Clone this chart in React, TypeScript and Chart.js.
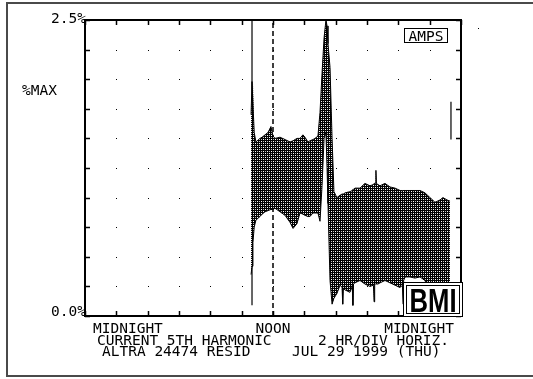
import React, { useEffect, useRef } from "react";
import { Chart, registerables } from "chart.js";

Chart.register(...registerables);

// Hours of day (0 = midnight)
const hours = [
  10.60, 10.66, 10.72, 10.80, 10.91, 11.17, 11.30, 11.49, 11.68, 11.87, 12.00, 12.13,
  12.45, 12.77, 13.09, 13.28, 13.53, 13.72, 13.91, 14.04, 14.23, 14.36, 14.55, 14.68,
  14.87, 15.00, 15.13, 15.26, 15.38, 15.45, 15.51, 15.64, 15.77, 15.89,
  16.08, 16.28, 16.41, 16.45, 16.49, 16.60, 16.91, 17.06, 17.10, 17.14, 17.23, 17.55,
  17.87, 18.19, 18.41, 18.45, 18.49, 18.54, 18.57, 18.60, 18.70, 18.83, 19.15, 19.47,
  19.79, 20.11, 20.26, 20.30, 20.34, 20.43, 20.74, 21.06, 21.38, 21.70,
  22.02, 22.34, 22.66, 22.85, 23.11, 23.30,
];
// Max of 5th harmonic current (%)
const maxVals = [
  1.70, 1.98, 1.98, 1.55, 1.47, 1.50, 1.51, 1.53, 1.55, 1.60, 1.52, 1.50,
  1.51, 1.49, 1.47, 1.48, 1.50, 1.50, 1.53, 1.51, 1.47, 1.48, 1.49, 1.50,
  1.52, 1.72, 2.05, 2.35, 2.50, 2.45, 2.30, 2.10, 1.50, 1.05,
  1.00, 1.02, 1.03, 1.03, 1.03, 1.04, 1.05, 1.06, 1.07, 1.07, 1.08, 1.08,
  1.12, 1.10, 1.11, 1.12, 1.12, 1.12, 1.23, 1.12, 1.11, 1.10, 1.12, 1.09,
  1.08, 1.06, 1.06, 1.06, 1.06, 1.06, 1.06, 1.06, 1.06, 1.04,
  1.00, 0.96, 0.98, 1.00, 0.98, 0.97,
];
// Min of 5th harmonic current (%)
const minVals = [
  0.35, 0.42, 0.62, 0.75, 0.81, 0.84, 0.86, 0.88, 0.89, 0.90, 0.90, 0.91,
  0.88, 0.85, 0.79, 0.74, 0.78, 0.87, 0.86, 0.85, 0.84, 0.84, 0.87, 0.87,
  0.87, 0.80, 1.10, 1.50, 1.55, 1.25, 0.95, 0.30, 0.10, 0.15,
  0.19, 0.26, 0.24, 0.10, 0.23, 0.22, 0.20, 0.25, 0.09, 0.27, 0.28, 0.30,
  0.27, 0.25, 0.26, 0.12, 0.27, 0.27, 0.27, 0.27, 0.27, 0.28, 0.30, 0.28,
  0.26, 0.24, 0.26, 0.10, 0.30, 0.33, 0.33, 0.32, 0.33, 0.30,
  0.20, 0.15, 0.15, 0.15, 0.15, 0.18,
];
// Event marker line (hour, from, to)
const markerHour = 10.66;
const markerRange = [0.09, 2.5];
const noonHour = 12;
const rightMarkHour = 23.36;
const rightMarkRange = [1.49, 1.81];

const xTicks = [0, 2, 4, 6, 8, 10, 12, 14, 16, 18, 20, 22, 24];
const yTicks = [0, 0.25, 0.5, 0.75, 1, 1.25, 1.5, 1.75, 2, 2.25, 2.5];
const yMin = 0;
const yMax = 2.5;

const FONT = '14.5px "DejaVu Sans Mono"';

export default function App() {
  const ref = useRef<HTMLCanvasElement | null>(null);

  useEffect(() => {
    document.body.style.margin = "0";
    const canvas = ref.current!;
    const tile = document.createElement("canvas");
    tile.width = 4;
    tile.height = 4;
    const t = tile.getContext("2d")!;
    t.fillStyle = "#000";
    t.fillRect(0, 0, 4, 4);
    t.fillStyle = "#fff";
    t.fillRect(1, 1, 1, 1);
    t.fillRect(3, 3, 1, 1);
    t.fillStyle = "#bbb";
    t.fillRect(3, 1, 1, 1);
    t.fillRect(1, 3, 1, 1);
    const pattern = canvas.getContext("2d")!.createPattern(tile, "repeat")!;

    const decor = {
      id: "decor",
      beforeDatasetsDraw(chart: any) {
        const { ctx, scales } = chart;
        const x = scales.x;
        const y = scales.y;
        ctx.save();
        ctx.fillStyle = "#fff";
        ctx.fillRect(0, 0, chart.width, chart.height);
        ctx.strokeStyle = "#4a4a4a";
        ctx.lineWidth = 2;
        ctx.strokeRect(7, 3, 600, 373);
        ctx.fillStyle = "#000";
        for (const h of xTicks) {
          for (const v of yTicks) {
            ctx.fillRect(Math.round(x.getPixelForValue(h)), Math.round(y.getPixelForValue(v)), 1, 1);
          }
        }
        ctx.fillRect(478, 28, 1, 1);
        ctx.restore();
      },
      afterDatasetsDraw(chart: any) {
        const { ctx, scales, chartArea } = chart;
        const { left, right, top, bottom } = chartArea;
        const x = scales.x;
        const y = scales.y;
        ctx.save();
        ctx.strokeStyle = "#000";
        ctx.lineWidth = 2;
        ctx.strokeRect(left, top, right - left, bottom - top);
        ctx.lineWidth = 1.5;
        ctx.beginPath();
        for (const h of xTicks) {
          const px = Math.round(x.getPixelForValue(h)) + 0.5;
          ctx.moveTo(px, top);
          ctx.lineTo(px, top + 5);
          ctx.moveTo(px, bottom);
          ctx.lineTo(px, bottom - 5);
        }
        for (const v of yTicks) {
          const py = Math.round(y.getPixelForValue(v)) + 0.5;
          ctx.moveTo(left, py);
          ctx.lineTo(left + 5, py);
          ctx.moveTo(right, py);
          ctx.lineTo(right - 5, py);
        }
        ctx.stroke();

        // text
        ctx.fillStyle = "#000";
        ctx.font = FONT;
        ctx.textBaseline = "alphabetic";
        ctx.textAlign = "right";
        ctx.fillText(yMax.toFixed(1) + "%", left + 1, top + 3);
        ctx.fillText(yMin.toFixed(1) + "%", left + 1, bottom);
        ctx.textAlign = "left";
        ctx.fillText("%MAX", 22, 95);
        ctx.fillText("MIDNIGHT", left + 8, bottom + 17);
        ctx.textAlign = "center";
        ctx.fillText("NOON", x.getPixelForValue(12), bottom + 17);
        ctx.textAlign = "right";
        ctx.fillText("MIDNIGHT", right - 7, bottom + 17);
        ctx.textAlign = "left";
        ctx.fillText("CURRENT 5TH HARMONIC", 97, bottom + 29);
        ctx.fillText("2 HR/DIV HORIZ.", 318, bottom + 29);
        ctx.fillText("ALTRA 24474 RESID", 102, bottom + 40);
        ctx.fillText("JUL 29 1999 (THU)", 292, bottom + 40);

        // AMPS box
        ctx.fillStyle = "#fff";
        ctx.fillRect(404, 28, 44, 15);
        ctx.lineWidth = 1;
        ctx.strokeRect(404.5, 28.5, 43, 14);
        ctx.fillStyle = "#000";
        ctx.textAlign = "center";
        ctx.fillText("AMPS", 426, 41);

        // BMI logo
        ctx.fillStyle = "#fff";
        ctx.fillRect(403, 282, 60, 35);
        ctx.strokeStyle = "#000";
        ctx.lineWidth = 1;
        ctx.strokeRect(403.5, 282.5, 59, 34);
        ctx.strokeRect(406.5, 285.5, 53, 28);
        ctx.fillStyle = "#000";
        ctx.font = 'bold 33px "Liberation Sans"';
        const w = ctx.measureText("BMI").width;
        ctx.save();
        ctx.translate(433, 312);
        ctx.scale(47 / w, 1);
        ctx.textAlign = "center";
        ctx.fillText("BMI", 0, 0);
        ctx.restore();
        ctx.restore();
      },
    };

    const chart = new Chart(canvas, {
      type: "line",
      data: {
        datasets: [
          {
            label: "max",
            data: hours.map((h, i) => ({ x: h, y: maxVals[i] })),
            borderColor: "#000",
            borderWidth: 1,
            pointRadius: 0,
            fill: false,
          },
          {
            label: "min",
            data: hours.map((h, i) => ({ x: h, y: minVals[i] })),
            borderColor: "#000",
            borderWidth: 1,
            pointRadius: 0,
            backgroundColor: pattern,
            fill: "-1",
          },
          {
            label: "marker",
            data: markerRange.map((v) => ({ x: markerHour, y: v })),
            borderColor: "#000",
            borderWidth: 1.2,
            pointRadius: 0,
            fill: false,
          },
          {
            label: "noon",
            data: [yMin, yMax].map((v) => ({ x: noonHour, y: v })),
            borderColor: "#000",
            borderWidth: 1.5,
            borderDash: [5, 3],
            pointRadius: 0,
            fill: false,
          },
          {
            label: "rightmark",
            data: rightMarkRange.map((v) => ({ x: rightMarkHour, y: v })),
            borderColor: "#000",
            borderWidth: 1.2,
            pointRadius: 0,
            fill: false,
          },
        ],
      },
      options: {
        animation: false,
        responsive: false,
        devicePixelRatio: 1,
        layout: { padding: { left: 85, right: 72, top: 20, bottom: 63 } },
        scales: {
          x: { type: "linear", min: 0, max: 24, display: false },
          y: { type: "linear", min: yMin, max: yMax, display: false },
        },
        plugins: { legend: { display: false }, tooltip: { enabled: false } },
        elements: { line: { tension: 0 } },
      },
      plugins: [decor],
    });
    return () => chart.destroy();
  }, []);

  return (
    <div style={{ width: 533, height: 379 }}>
      <canvas ref={ref} width={533} height={379} style={{ display: "block" }} />
    </div>
  );
}
